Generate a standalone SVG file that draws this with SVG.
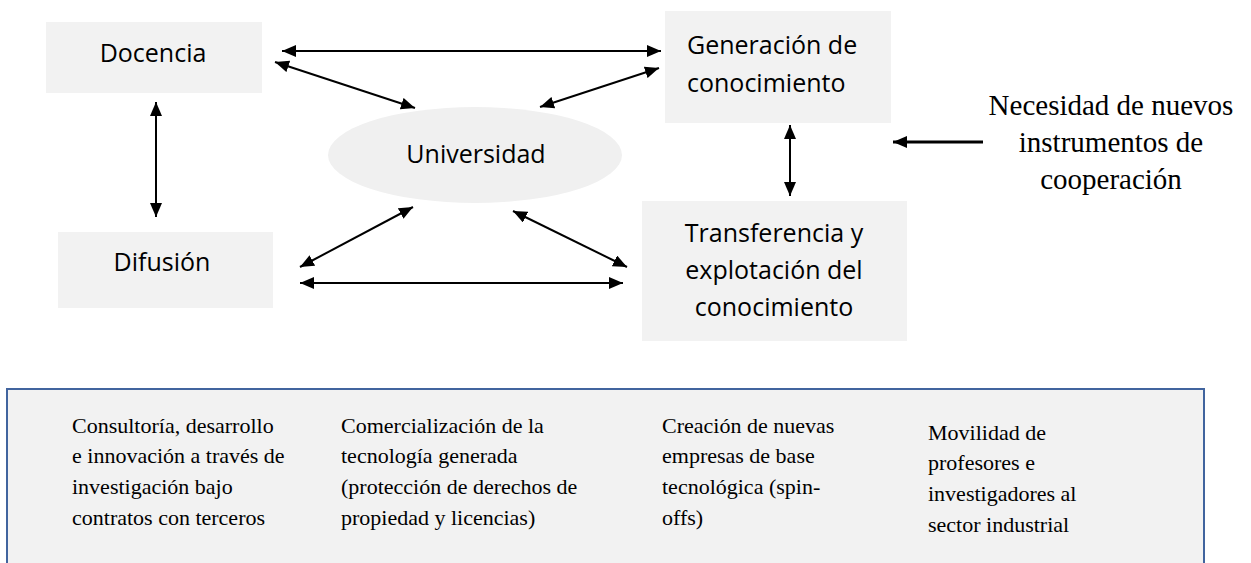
<svg xmlns="http://www.w3.org/2000/svg" width="1251" height="563" viewBox="0 0 1251 563">
<style>
.box{fill:#f2f2f2}
.sans{font-family:"Open Sans","DejaVu Sans",sans-serif;font-size:25px;fill:#000}
.serif{font-family:"Liberation Serif","Times New Roman",serif;fill:#000}
.big{font-size:29px}
.small{font-size:22px}
.con{stroke:#000;stroke-width:2;fill:none;marker-start:url(#ah);marker-end:url(#ah)}
</style>
<defs>
<marker id="ah" viewBox="0 0 14 12" refX="14" refY="6" markerWidth="14" markerHeight="12" markerUnits="userSpaceOnUse" orient="auto-start-reverse">
<path d="M0,0 L14,6 L0,12 z" fill="#000"/>
</marker>
<marker id="ah1" viewBox="0 0 14 12" refX="14" refY="6" markerWidth="14" markerHeight="12" markerUnits="userSpaceOnUse" orient="auto">
<path d="M0,0 L14,6 L0,12 z" fill="#000"/>
</marker>
</defs>
<rect width="1251" height="563" fill="#fff"/>
<g id="docencia">
<rect class="box" x="46" y="22" width="216" height="71"/>
<text class="sans" x="153" y="62" text-anchor="middle">Docencia</text>
</g>
<g id="difusion">
<rect class="box" x="58" y="232" width="215" height="76"/>
<text class="sans" x="162" y="271" text-anchor="middle">Difusión</text>
</g>
<g id="universidad">
<ellipse cx="475" cy="155" rx="147" ry="48" fill="#f0f0f0"/>
<text class="sans" x="476" y="163" text-anchor="middle">Universidad</text>
</g>
<g id="generacion">
<rect class="box" x="665" y="11" width="226" height="112"/>
<text class="sans" x="687" y="54">Generación de</text>
<text class="sans" x="687" y="92">conocimiento</text>
</g>
<g id="transferencia">
<rect class="box" x="642" y="201" width="265" height="140"/>
<text class="sans" x="774" y="242" text-anchor="middle">Transferencia y</text>
<text class="sans" x="774" y="279" text-anchor="middle">explotación del</text>
<text class="sans" x="774" y="316" text-anchor="middle">conocimiento</text>
</g>
<g id="necesidad">
<text class="serif big" x="1111" y="115" text-anchor="middle">Necesidad de nuevos</text>
<text class="serif big" x="1111" y="152" text-anchor="middle">instrumentos de</text>
<text class="serif big" x="1111" y="189" text-anchor="middle">cooperación</text>
</g>
<g id="connectors">
<line class="con" x1="282" y1="51" x2="661" y2="51"/>
<line class="con" x1="275" y1="62" x2="415" y2="108"/>
<line class="con" x1="540" y1="107" x2="659" y2="68"/>
<line class="con" x1="156" y1="102" x2="156" y2="217"/>
<line class="con" x1="300" y1="267" x2="413" y2="207"/>
<line class="con" x1="513" y1="211" x2="627" y2="267"/>
<line class="con" x1="300" y1="283" x2="623" y2="283"/>
<line class="con" x1="790" y1="125" x2="790" y2="196"/>
<line x1="983" y1="142" x2="893" y2="142" stroke="#000" stroke-width="3" marker-end="url(#ah1)"/>
</g>
<g id="mecanismos">
<rect x="7" y="389" width="1197" height="200" fill="#f2f2f2" stroke="#41649e" stroke-width="2"/>
<text class="serif small"><tspan x="72" y="433">Consultoría, desarrollo</tspan><tspan x="72" y="463">e innovación a través de</tspan><tspan x="72" y="494">investigación bajo</tspan><tspan x="72" y="525">contratos con terceros</tspan></text>
<text class="serif small"><tspan x="341" y="433">Comercialización de la</tspan><tspan x="341" y="463">tecnología generada</tspan><tspan x="341" y="494">(protección de derechos de</tspan><tspan x="341" y="525">propiedad y licencias)</tspan></text>
<text class="serif small"><tspan x="662" y="433">Creación de nuevas</tspan><tspan x="662" y="463">empresas de base</tspan><tspan x="662" y="494">tecnológica (spin-</tspan><tspan x="662" y="525">offs)</tspan></text>
<text class="serif small"><tspan x="928" y="440">Movilidad de</tspan><tspan x="928" y="470">profesores e</tspan><tspan x="928" y="501">investigadores al</tspan><tspan x="928" y="532">sector industrial</tspan></text>
</g>
</svg>
